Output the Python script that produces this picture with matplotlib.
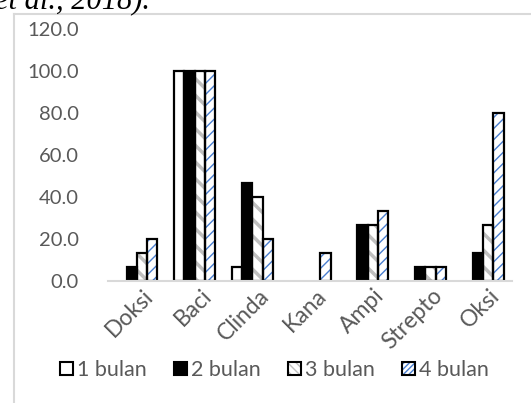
import matplotlib
matplotlib.use("Agg")
import matplotlib.pyplot as plt
import matplotlib.patches as mpatches
import matplotlib.transforms as mtransforms
from matplotlib.lines import Line2D
import numpy as np

plt.rcParams['font.family'] = ['Lato', 'DejaVu Sans']

categories = ["Doksi", "Baci", "Clinda", "Kana", "Ampi", "Strepto", "Oksi"]
series_names = ["1 bulan", "2 bulan", "3 bulan", "4 bulan"]
bulan1 = [0.0, 100.0, 6.7, 0.0, 0.0, 0.0, 0.0]
bulan2 = [6.7, 100.0, 46.7, 0.0, 26.7, 6.7, 13.3]
bulan3 = [13.3, 100.0, 40.0, 0.0, 26.7, 6.7, 26.7]
bulan4 = [20.0, 100.0, 20.0, 13.3, 33.3, 6.7, 80.0]
yticks = [0, 20, 40, 60, 80, 100, 120]

W, H = 531, 403
fig = plt.figure(figsize=(W / 100, H / 100), dpi=100)
ax = fig.add_axes([108 / W, 1 - 281 / H, (512 - 108) / W, (281 - 29) / H])

# fill, hatch, hatch colour, hatch width for each series
styles = [
    ("white", None, None, 0),
    ("black", None, None, 0),
    ("white", "\\\\", "#bfbfbf", 2.5),
    ("white", "///", "#4a7fd0", 1.0),
]

x = np.arange(len(categories))
bw = 0.178
for i, vals in enumerate([bulan1, bulan2, bulan3, bulan4]):
    fc, hatch, hc, hlw = styles[i]
    pos = x + (i - 1.5) * bw
    with plt.rc_context({'hatch.linewidth': hlw if hlw else 1.0}):
        ax.bar(pos, vals, bw, color=fc, edgecolor=hc if hc else fc,
               linewidth=0, hatch=hatch, zorder=2)
    # outline drawn separately so the hatch can have its own colour
    for v, p in zip(vals, pos):
        if v > 0:
            ax.bar(p, v, bw, fill=False, edgecolor="black", linewidth=1.6, zorder=3)

ax.set_xlim(-0.5, len(categories) - 0.5)
ax.set_ylim(0, 120)
ax.set_yticks(yticks)
ax.set_yticklabels([f"{t:.1f}" for t in yticks])
ax.set_xticks(x)
ax.set_xticklabels(categories, rotation=45, ha="right", rotation_mode="anchor")
ax.tick_params(axis="y", length=0, pad=21, labelsize=14.5, labelcolor="#595959")
ax.tick_params(axis="x", length=0, pad=3, labelsize=16.5, labelcolor="#595959")
shift = mtransforms.ScaledTranslation(6 / 100, 0, fig.dpi_scale_trans)
for lab in ax.get_xticklabels():
    lab.set_transform(lab.get_transform() + shift)
for s in ["top", "right", "left"]:
    ax.spines[s].set_visible(False)
ax.spines["bottom"].set_color("#d9d9d9")
ax.spines["bottom"].set_linewidth(1.5)
ax.spines["bottom"].set_zorder(4)

handles = []
for i, name in enumerate(series_names):
    fc, hatch, hc, hlw = styles[i]
    if hatch:
        hatch = hatch * 2
    with plt.rc_context({'hatch.linewidth': hlw if hlw else 1.0}):
        fill = mpatches.Patch(facecolor=fc, edgecolor=hc if hc else fc,
                              linewidth=0, hatch=hatch)
    edge = mpatches.Patch(fill=False, edgecolor="black", linewidth=1.5)
    handles.append((fill, edge))
leg = fig.legend(handles=handles, labels=series_names, loc="center",
                 bbox_to_anchor=(0.517, 1 - 370 / H),
                 ncol=4, frameon=False, fontsize=15.5, handlelength=0.6,
                 handleheight=0.6, handletextpad=0.2, columnspacing=1.25,
                 labelcolor="#595959")

# chart border (only top and left edges are in view)
fig.add_artist(Line2D([14 / W, 1], [1 - 14 / H] * 2, transform=fig.transFigure,
                      color="#d9d9d9", linewidth=1.5))
fig.add_artist(Line2D([14 / W, 14 / W], [1 - 14 / H, 0], transform=fig.transFigure,
                      color="#d9d9d9", linewidth=1.5))

# text from the surrounding page
fig.text(150 / W, 1 - 8 / H, "et al., 2018).", ha="right", va="baseline",
         family="Liberation Serif", style="italic", fontsize=22, color="black")

fig.savefig("out.png", dpi=100)
